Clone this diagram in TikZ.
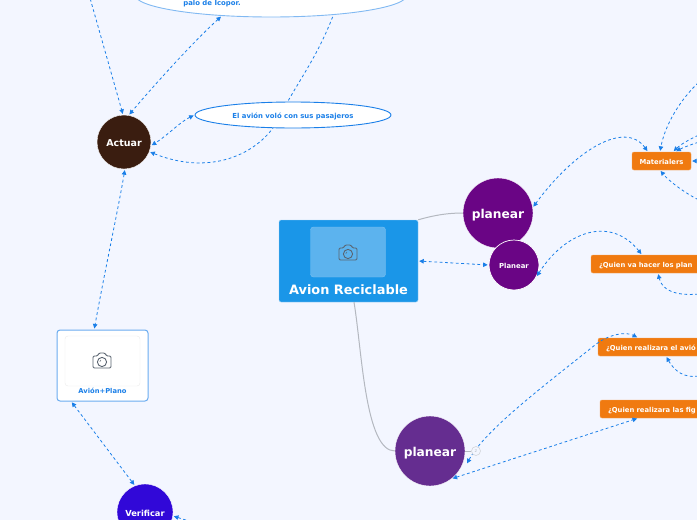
\documentclass[tikz,border=0pt]{standalone}
\usepackage{fontspec}
\setmainfont{DejaVu Sans}
\usetikzlibrary{shapes.geometric,arrows.meta}
\definecolor{bgc}{HTML}{F3F6FF}
\definecolor{linkc}{HTML}{1A7FE8}
\definecolor{rootc}{HTML}{1A96E8}
\definecolor{imgc}{HTML}{5CB3EE}
\definecolor{orangec}{HTML}{F07A10}
\definecolor{purplea}{HTML}{6A0585}
\definecolor{purpleb}{HTML}{652D90}
\definecolor{brownc}{HTML}{3A1D10}
\definecolor{indigoc}{HTML}{3108D8}
\definecolor{camc}{HTML}{5A6470}
\definecolor{grayl}{HTML}{B4B8C0}
\tikzset{
  link/.style={draw=linkc,line width=0.8pt,dash pattern=on 2.8pt off 2.6pt,shorten <=1pt,shorten >=1pt},
  tip/.style={-{Triangle[length=4.5pt,width=4.5pt]}},
  tips/.style={{Triangle[length=4.5pt,width=4.5pt]}-{Triangle[length=4.5pt,width=4.5pt]}},
  branch/.style={draw=grayl,line width=1pt},
  topic/.style={circle,draw=white,line width=0.4pt,text=white,inner sep=0pt,text height=8pt,text depth=0pt},
  bigtopic/.style={topic,minimum size=70pt,text height=11.5pt,font=\bfseries\fontsize{12.2}{14}\selectfont},
  oval/.style={ellipse,fill=white,inner sep=0pt,line width=0.9pt,text=linkc,text height=6pt,text depth=0pt,font=\bfseries\fontsize{6.9}{8}\selectfont},
  task/.style={rectangle,rounded corners=2pt,fill=orangec,draw=orangec!70!white,line width=0.4pt,text=white,text height=6pt,text depth=0pt,font=\bfseries\fontsize{6.8}{8}\selectfont,inner sep=0pt},
  camicon/.pic={
    \draw[camc,line width=0.9pt,rounded corners=1.2pt] (-9,-5) -- (-4.5,-5) -- (-3,-8) -- (3,-8) -- (4.5,-5) -- (9,-5) -- (9,7) -- (-9,7) -- cycle;
    \draw[camc,line width=0.9pt] (0,1) circle (4.6);
    \draw[camc,line width=0.5pt] (-2.2,0.6) -- (-1,-1);
  }
}
\begin{document}
\begin{tikzpicture}[x=1pt,y=-1pt]
\fill[bgc] (0,0) rectangle (697,520);
\clip (0,0) rectangle (697,520);
% nodes
\node[rectangle,rounded corners=2pt,fill=rootc,draw=white!60!rootc,line width=0.4pt,minimum width=139pt,minimum height=82pt] (root) at (348.5,261) {};
\node[rectangle,rounded corners=3pt,fill=imgc,draw=white!20!imgc,line width=0.4pt,minimum width=75pt,minimum height=50pt] (rootimg) at (348,252) {};
\pic at (348,253) {camicon};
\node[text=white,font=\bfseries\fontsize{12.9}{15}\selectfont,inner sep=0pt,text height=12pt,text depth=0pt] (roottext) at (348.5,288) {Avion Reciclable};
\node[bigtopic,fill=purplea] (plan) at (498,213) {planear};
\node[topic,minimum size=50pt,fill=purplea,line width=0.7pt,text height=7pt,font=\bfseries\fontsize{6.9}{8}\selectfont] (plans) at (514,265) {Planear};
\node[bigtopic,fill=purpleb] (plant) at (430,451) {planear};
\node[topic,minimum size=54pt,fill=brownc,font=\bfseries\fontsize{9.5}{11}\selectfont] (act) at (124,142) {Actuar};
\node[topic,minimum size=56pt,fill=indigoc,font=\bfseries\fontsize{8.3}{10}\selectfont] (ver) at (145,512) {Verificar};
\node[task,minimum width=59pt,minimum height=18pt] (mat) at (661.5,161) {Materialers};
\node[task,minimum width=130pt,minimum height=18pt,text width=114pt,align=left] (qa) at (656,264) {\hbox{¿Quien va hacer los plan}};
\node[task,minimum width=130pt,minimum height=18pt,text width=114pt,align=left] (qb) at (663,347) {\hbox{¿Quien realizara el avió}};
\node[task,minimum width=130pt,minimum height=18pt,text width=114pt,align=left] (qc) at (665,409) {\hbox{¿Quien realizara las fig}};
\node[rectangle,rounded corners=3pt,fill=white,draw=linkc!65!white,line width=1pt,minimum width=91pt,minimum height=71pt] (card) at (102.5,365.5) {};
\node[rectangle,rounded corners=3pt,fill=white,draw=black!8,line width=0.4pt,minimum width=75pt,minimum height=50pt] (cardimg) at (102.5,361) {};
\pic at (102,361) {camicon};
\node[text=linkc,font=\bfseries\fontsize{6.75}{8}\selectfont,inner sep=0pt,text height=5pt,text depth=0pt] (cardtext) at (102.5,391) {Avión+Plano};
% free ends
\coordinate (fa) at (90,-2);
\coordinate (fb) at (699,82);
\coordinate (fc) at (699,135);
\coordinate (fd) at (699,142);
\coordinate (fe) at (699,161);
\coordinate (ff) at (699,200);
\coordinate (fg) at (699,294);
\coordinate (fh) at (699,376);
\coordinate (fi) at (192,522);
\coordinate (ov) at (333,16);
% connectors under the ovals
\draw[link,tip] (ov) .. controls (315,62) and (295,85) .. (278,120) .. controls (262,150) and (215,178) .. (act.-21);
% ovals
\node[oval,draw=linkc!55!white,minimum width=272pt,minimum height=44pt] (topo) at (271,-5) {};
\node[text=linkc,font=\bfseries\fontsize{6.9}{8}\selectfont,inner sep=0pt,text height=6pt,text depth=0pt] (topt) at (212,2) {palo de Icopor.};
\node[oval,draw=linkc,minimum width=196pt,minimum height=26pt] (el) at (293,115) {El avión voló con sus pasajeros};
% branches
\draw[branch] (root.north east) .. controls (435,215) and (448,213) .. (plan.west);
\draw[branch] ([xshift=5.5pt]root.south) .. controls (362,350) and (365,451) .. (plant.west);
% connectors
\draw[link,tips] (root.east) -- (plans.west);
\draw[link,tips] ([xshift=-13.5pt]mat.north) .. controls (625,120) and (575,150) .. (plan.9);
\draw[link,tips] ([xshift=-14pt]qa.north) .. controls (610,215) and (565,232) .. (plans.-28);
\draw[link,tip] (fb) .. controls (680,100) and (665,125) .. ([xshift=-1.5pt]mat.north);
\draw[link,tip] (fc) .. controls (688,140) and (680,145) .. ([xshift=11.5pt]mat.north);
\draw[link,tip] (fd) .. controls (690,145) and (682,148) .. ([xshift=14pt]mat.north);
\draw[link,tip] (fe) -- (mat.east);
\draw[link,tip] (ff) .. controls (683,192) and (668,180) .. ([xshift=-1.5pt]mat.south);
\draw[link,tip] (fg) .. controls (675,296) and (662,290) .. ([xshift=2pt]qa.south);
\draw[link,tips] ([xshift=4pt]plant.-22) .. controls (485,430) and (545,385) .. (595,345) .. controls (607,335) and (625,331) .. ([xshift=-25pt]qb.north);
\draw[link,tip] (fh) .. controls (685,378) and (675,372) .. ([xshift=3pt]qb.south);
\draw[link,tips] (plant.-52) -- ([xshift=-27pt]qc.south);
\draw[link,tip] (fa) -- (act.92);
\draw[link,tips] (topo.-157) .. controls (190,45) and (150,90) .. (act.80);
\draw[link,tips] (el.west) .. controls (180,122) and (168,135) .. (act.-8);
\draw[link,tips] (act.-88) .. controls (118,210) and (105,270) .. (card.103);
\draw[link,tips] (card.-131) -- (ver.111);
\draw[link,tip] (fi) -- (ver.-8);
% collapse marker
\node[circle,draw=grayl!60!white,fill=bgc,line width=0.6pt,minimum size=9pt,inner sep=0pt,text=grayl,font=\fontsize{4}{4}\selectfont] (fold) at (476,451) {2};
\draw[branch] (plant.east) -- (fold.west);
\end{tikzpicture}
\end{document}
